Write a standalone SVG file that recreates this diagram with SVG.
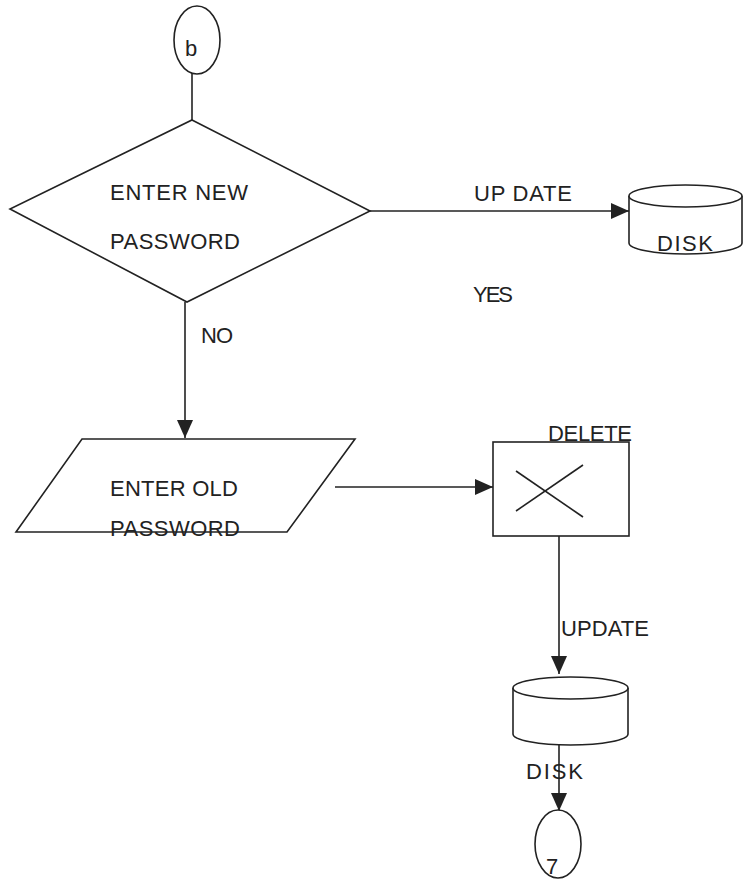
<svg xmlns="http://www.w3.org/2000/svg" width="743" height="880" viewBox="0 0 743 880">
<style>
.s{fill:#fff;stroke:#222;stroke-width:1.6}
.c{fill:none;stroke:#222;stroke-width:1.6}
.t{font-family:"Liberation Sans",Arial,sans-serif;font-size:22px;fill:#222}
</style>
<defs>
<marker id="ah" markerUnits="userSpaceOnUse" markerWidth="20" markerHeight="18" refX="18" refY="8" orient="auto">
<path d="M0,0 L18,8 L0,16 Z" fill="#222"/>
</marker>
</defs>
<rect width="743" height="880" fill="#fff"/>
<g id="connectors">
<line class="c" x1="192" y1="73" x2="192" y2="120"/>
<line class="c" x1="370" y1="211" x2="629" y2="211" marker-end="url(#ah)"/>
<line class="c" x1="185" y1="302" x2="185" y2="438" marker-end="url(#ah)"/>
<line class="c" x1="335" y1="487" x2="493" y2="487" marker-end="url(#ah)"/>
<line class="c" x1="559" y1="536" x2="559" y2="674" marker-end="url(#ah)"/>
<line class="c" x1="559" y1="745" x2="559" y2="811" marker-end="url(#ah)"/>
<text class="t" x="474" y="201" textLength="98">UP DATE</text>
<text class="t" x="473" y="302" textLength="40">YES</text>
<text class="t" x="201" y="343" textLength="32">NO</text>
<text class="t" x="561" y="636" textLength="88">UPDATE</text>
<text class="t" x="526" y="779" textLength="57">DISK</text>
</g>
<g id="start-b">
<ellipse class="s" cx="197" cy="40" rx="23" ry="34"/>
<text class="t" x="185" y="56">b</text>
</g>
<g id="enter-new">
<polygon class="s" points="192,120 370,211 187,302 10,209"/>
<text class="t" x="110" y="200" textLength="138">ENTER NEW</text>
<text class="t" x="110" y="249" textLength="130">PASSWORD</text>
</g>
<g id="disk-1">
<path class="s" d="M629,196 L629,243 A56.5,11 0 0 0 742,243 L742,196"/>
<ellipse class="s" cx="685.5" cy="196" rx="56.5" ry="11"/>
<text class="t" x="657" y="251" textLength="56">DISK</text>
</g>
<g id="enter-old">
<polygon class="s" points="82,439 355,439 287,532 16,532"/>
<text class="t" x="110" y="496" textLength="128">ENTER OLD</text>
<text class="t" x="110" y="536" textLength="130">PASSWORD</text>
</g>
<g id="delete">
<rect class="s" x="493" y="442" width="136" height="94"/>
<line class="c" x1="516" y1="471" x2="583" y2="517"/>
<line class="c" x1="516" y1="511" x2="583" y2="465"/>
<text class="t" x="548" y="441" textLength="84">DELETE</text>
</g>
<g id="disk-2">
<path class="s" d="M513,688 L513,734 A57.5,11 0 0 0 628,734 L628,688"/>
<ellipse class="s" cx="570.5" cy="688" rx="57.5" ry="11"/>
</g>
<g id="end-7">
<ellipse class="s" cx="558" cy="844" rx="23" ry="34"/>
<text class="t" x="546" y="874">7</text>
</g>
</svg>
